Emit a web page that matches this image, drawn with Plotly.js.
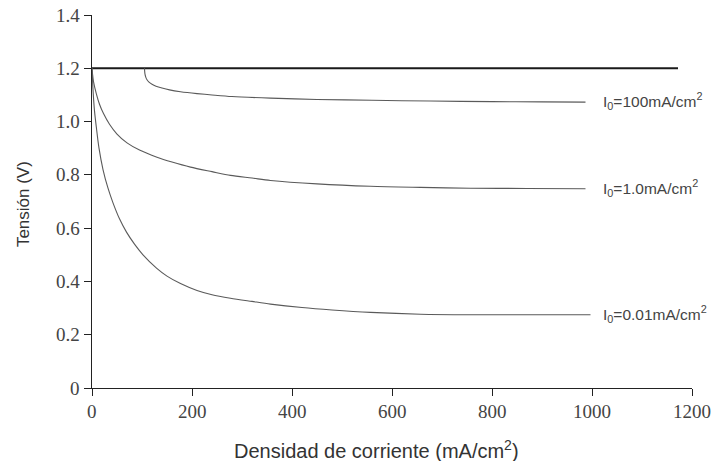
<!DOCTYPE html>
<html>
<head>
<meta charset="utf-8">
<script src="https://cdn.plot.ly/plotly-3.0.1.min.js"></script>
<style>
html,body{margin:0;padding:0;background:#fff;}
#chart{width:716px;height:461px;}
</style>
</head>
<body>
<div id="chart"></div>
<script>
// Reversible voltage line
const eRevX = [0, 1172];
const eRevV = [1.2, 1.2];

// I0 = 100 mA/cm2
const i100X = [105, 105.3, 106, 107.5, 110, 114, 120, 128, 140, 155, 177, 210, 240, 280, 357, 450, 560, 677, 800, 900, 987];
const i100V = [1.2, 1.19, 1.178, 1.167, 1.157, 1.148, 1.14, 1.133, 1.126, 1.119, 1.112, 1.105, 1.1, 1.094, 1.088, 1.083, 1.08, 1.077, 1.075, 1.074, 1.073];

// I0 = 1.0 mA/cm2
const i1X = [0, 1, 3, 8.6, 15, 23, 35, 50, 70, 95, 130, 160, 197, 240, 277, 320, 357, 450, 557, 657, 757, 870, 987];
const i1V = [1.2, 1.18, 1.15, 1.105, 1.065, 1.03, 0.99, 0.953, 0.92, 0.893, 0.866, 0.848, 0.829, 0.812, 0.798, 0.788, 0.779, 0.766, 0.757, 0.753, 0.75, 0.749, 0.748];

// I0 = 0.01 mA/cm2
const i001X = [0, 1, 2, 5, 8.6, 14, 22, 32, 42, 55, 69, 85, 102, 129, 150, 177, 210, 240, 277, 320, 357, 420, 480, 557, 657, 757, 870, 997];
const i001V = [1.2, 1.16, 1.12, 1.04, 0.98, 0.9, 0.82, 0.75, 0.695, 0.635, 0.585, 0.54, 0.5, 0.45, 0.42, 0.392, 0.366, 0.35, 0.337, 0.325, 0.315, 0.302, 0.293, 0.284, 0.277, 0.275, 0.275, 0.275];

// Curve labels
const labelText = ["I<sub>0</sub>=100mA/cm<sup>2</sup>", "I<sub>0</sub>=1.0mA/cm<sup>2</sup>", "I<sub>0</sub>=0.01mA/cm<sup>2</sup>"];
const labelX = [1018, 1018, 1018];
const labelV = [1.078, 0.752, 0.278];

// Axis titles and ticks
const xTitle = 'Densidad de corriente (mA/cm<sup>2</sup>)';
const yTitle = 'Tensión (V)';
const xTicks = [0, 200, 400, 600, 800, 1000, 1200];
const xTickText = ["0", "200", "400", "600", "800", "1000", "1200"];
const yTicks = [0, 0.2, 0.4, 0.6, 0.8, 1.0, 1.2, 1.4];
const yTickText = ["0", "0.2", "0.4", "0.6", "0.8", "1.0", "1.2", "1.4"];

const curveStyle = {color: '#5a5a5a', width: 1.1, shape: 'spline', smoothing: 0.8};

const traces = [
  {x: eRevX, y: eRevV, mode: 'lines', line: {color: '#1a1a1a', width: 2}, hoverinfo: 'skip'},
  {x: i100X, y: i100V, mode: 'lines', line: curveStyle},
  {x: i1X, y: i1V, mode: 'lines', line: curveStyle},
  {x: i001X, y: i001V, mode: 'lines', line: curveStyle}
];

const sansFont = 'Liberation Sans';
const serifFont = 'Liberation Serif';
const tickFont = {family: serifFont, size: 19, color: '#444'};

const annotations = labelText.map((t, i) => ({
  x: labelX[i], y: labelV[i], xref: 'x', yref: 'y', text: t, showarrow: false,
  xanchor: 'left', yanchor: 'middle',
  font: {family: sansFont, size: 15.5, color: '#444'}
}));
// tick labels placed on the axes' own scales
xTicks.forEach((v, i) => annotations.push({
  x: v, xref: 'x', y: -0.0617, yref: 'paper', text: xTickText[i], showarrow: false,
  xanchor: 'center', yanchor: 'middle', font: tickFont
}));
yTicks.forEach((v, i) => annotations.push({
  x: -0.0167, xref: 'paper', y: v, yref: 'y', text: yTickText[i], showarrow: false,
  xanchor: 'right', yanchor: 'middle', font: tickFont
}));
annotations.push({
  xref: 'paper', yref: 'paper', x: 0.474, y: -0.166, text: xTitle, showarrow: false,
  xanchor: 'center', yanchor: 'middle', font: {family: sansFont, size: 20, color: '#333'}
});
annotations.push({
  xref: 'paper', yref: 'paper', x: -0.115, y: 0.493, text: yTitle, showarrow: false, textangle: -90,
  xanchor: 'center', yanchor: 'middle', font: {family: sansFont, size: 17, color: '#333'}
});

const layout = {
  width: 716, height: 461,
  margin: {l: 92, r: 24, t: 15, b: 73},
  paper_bgcolor: '#fff', plot_bgcolor: '#fff',
  showlegend: false,
  xaxis: {
    range: [0, 1200], tickmode: 'array', tickvals: xTicks, ticks: 'outside', ticklen: 7, tickcolor: '#222', tickwidth: 1,
    showline: true, linecolor: '#222', linewidth: 1, showgrid: false, zeroline: false,
    showticklabels: false, automargin: false
  },
  yaxis: {
    range: [0, 1.4], tickmode: 'array', tickvals: yTicks, ticks: 'outside', ticklen: 7, tickcolor: '#222', tickwidth: 1,
    showline: true, linecolor: '#222', linewidth: 1, showgrid: false, zeroline: false,
    showticklabels: false, automargin: false
  },
  annotations: annotations
};

Plotly.newPlot('chart', traces, layout, {displayModeBar: false});
</script>
</body>
</html>
